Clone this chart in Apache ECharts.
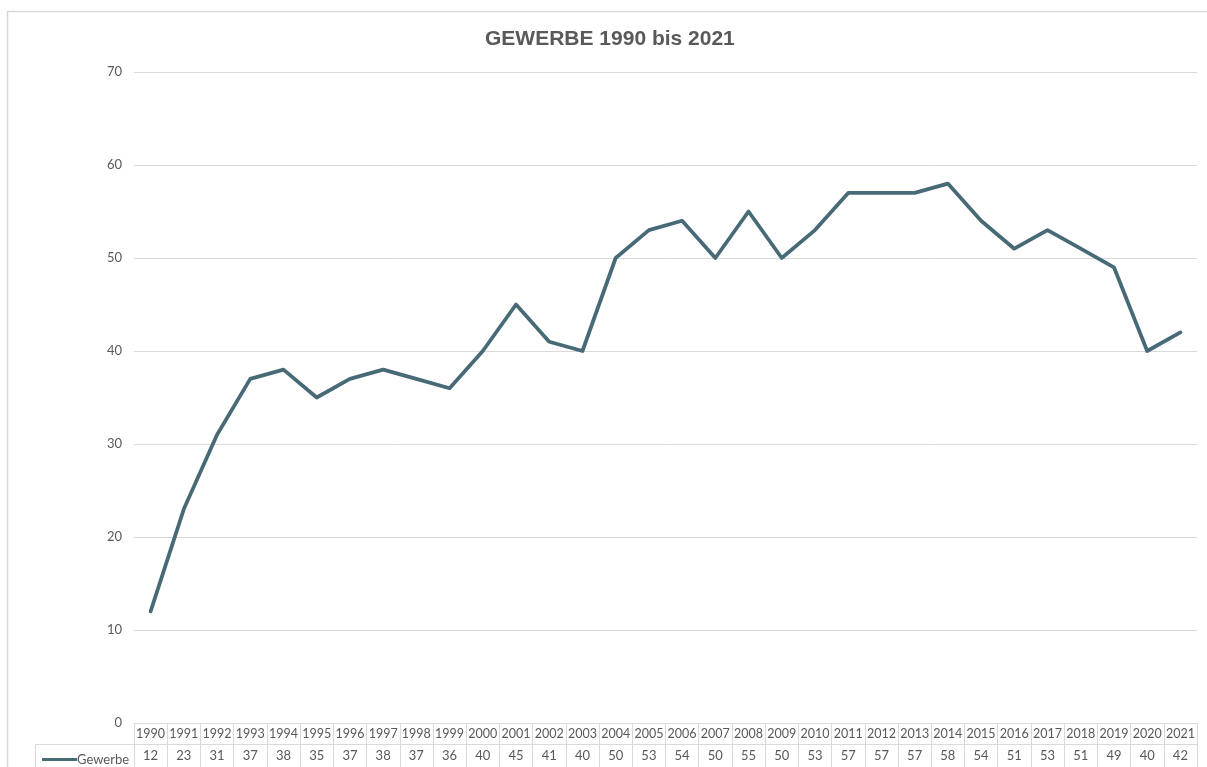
<!DOCTYPE html>
<html>
<head>
<meta charset="utf-8">
<script src="https://cdn.jsdelivr.net/npm/echarts@6/dist/echarts.min.js"></script>
<style>
  html, body { margin: 0; padding: 0; background: #fff; }
  #chart { width: 1207px; height: 767px; }
</style>
</head>
<body>
<div id="chart"></div>
<script>
var years = ['1990','1991','1992','1993','1994','1995','1996','1997','1998','1999',
             '2000','2001','2002','2003','2004','2005','2006','2007','2008','2009',
             '2010','2011','2012','2013','2014','2015','2016','2017','2018','2019',
             '2020','2021'];
var gewerbe = [12, 23, 31, 37, 38, 35, 37, 38, 37, 36,
               40, 45, 41, 40, 50, 53, 54, 50, 55, 50,
               53, 57, 57, 57, 58, 54, 51, 53, 51, 49,
               40, 42];

var chart = echarts.init(document.getElementById('chart'));
var gridCol = '#d9d9d9';
var txtCol = '#595959';
var tableFont = 'Lato';

chart.setOption({
    backgroundColor: '#fff',
    animation: false,
    title: {
        text: 'GEWERBE 1990 bis 2021',
        left: 480,
        top: 24,
        textStyle: {
            fontFamily: 'Liberation Sans',
            fontWeight: 'bold',
            fontSize: 21,
            color: txtCol
        }
    },
    legend: {
        left: 37,
        top: 748,
        icon: 'rect',
        itemWidth: 35,
        itemHeight: 3,
        itemGap: 2,
        textStyle: { fontFamily: tableFont, fontSize: 13, color: txtCol, padding: [0, 0, 0, -5] },
        data: ['Gewerbe']
    },
    grid: { left: 134, right: 10, top: 72, bottom: 44 },
    xAxis: [
        {
            type: 'category',
            data: years,
            position: 'bottom',
            axisLine: { show: true, lineStyle: { color: gridCol } },
            axisTick: { show: true, length: 44, interval: 0, lineStyle: { color: gridCol } },
            axisLabel: { interval: 0, margin: 4, fontFamily: tableFont, fontSize: 12.5, color: txtCol }
        },
        {
            type: 'category',
            data: years,
            position: 'bottom',
            offset: 21,
            axisLine: { show: true, lineStyle: { color: gridCol } },
            axisTick: { show: false },
            axisLabel: {
                interval: 0, margin: 5, fontFamily: tableFont, fontSize: 13, color: txtCol,
                formatter: function (v, i) { return String(gewerbe[i]); }
            }
        }
    ],
    yAxis: {
        type: 'value',
        min: 0,
        max: 70,
        interval: 10,
        axisLine: { show: false },
        axisTick: { show: false },
        axisLabel: { margin: 12, fontFamily: tableFont, fontSize: 13, color: txtCol },
        splitLine: { lineStyle: { color: gridCol, width: 1 } }
    },
    series: [
        {
            name: 'Gewerbe',
            type: 'line',
            data: gewerbe,
            showSymbol: false,
            symbol: 'none',
            itemStyle: { color: '#486a77' },
            lineStyle: { color: '#486a77', width: 3.75, join: 'round', cap: 'round' }
        }
    ],
    graphic: [
        {
            type: 'rect',
            shape: { x: 7.5, y: 11.5, width: 1250, height: 800 },
            style: { fill: 'none', stroke: gridCol, lineWidth: 1.5 },
            silent: true
        },
        {
            type: 'line',
            shape: { x1: 35.5, y1: 744.5, x2: 134, y2: 744.5 },
            style: { stroke: gridCol, lineWidth: 1 },
            silent: true
        },
        {
            type: 'line',
            shape: { x1: 35.5, y1: 744.5, x2: 35.5, y2: 767 },
            style: { stroke: gridCol, lineWidth: 1 },
            silent: true
        }
    ]
});
</script>
</body>
</html>
